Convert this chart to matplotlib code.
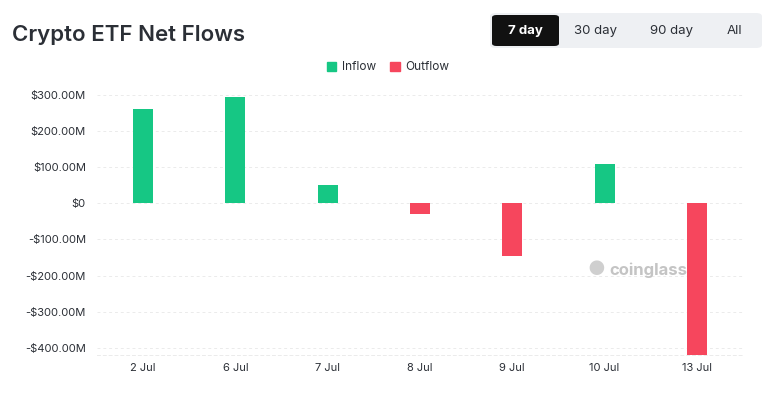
import matplotlib
matplotlib.use("Agg")
import matplotlib.pyplot as plt
from matplotlib.patches import FancyBboxPatch, Patch
from matplotlib.ticker import FuncFormatter

dates = ["2 Jul", "6 Jul", "7 Jul", "8 Jul", "9 Jul", "10 Jul", "13 Jul"]
flows = [260, 294, 50, -30, -147, 108, -419]  # USD millions
y_ticks = [-400, -300, -200, -100, 0, 100, 200, 300]
buttons = ["7 day", "30 day", "90 day", "All"]

GREEN = "#16c784"
RED = "#f6465d"
TEXT = "#2b2f36"

plt.rcParams['font.family'] = ['Inter', 'DejaVu Sans']

fig = plt.figure(figsize=(7.76, 4.2), dpi=100)
ax = fig.add_axes([97/776, (420-355)/420, (743-97)/776, (355-95)/420])

x = list(range(len(dates)))
colors = [GREEN if v >= 0 else RED for v in flows]
ax.bar(x, flows, width=0.217, color=colors, zorder=3)

ax.set_xlim(-0.5, len(dates) - 0.5)
ax.set_ylim(-420, 300)
ax.set_yticks(y_ticks)
ax.set_xticks(x)
ax.set_xticklabels(dates)

def fmt(v, pos):
    if v == 0:
        return "$0"
    s = "-" if v < 0 else ""
    return f"{s}${abs(v):.2f}M"
ax.yaxis.set_major_formatter(FuncFormatter(fmt))

ax.grid(axis='y', color='#ebebeb', linestyle=(0, (3, 3)), linewidth=0.7, zorder=0)
for s in ['top', 'left', 'right']:
    ax.spines[s].set_visible(False)
ax.spines['bottom'].set_color('#ebebeb')
ax.spines['bottom'].set_linestyle((0, (3, 3)))
ax.spines['bottom'].set_linewidth(0.7)
ax.tick_params(axis='both', length=0, labelsize=8, labelcolor=TEXT)
ax.tick_params(axis='x', pad=6)
ax.tick_params(axis='y', pad=8)

# Title
fig.text(12/776, 1 - 35/420, "Crypto ETF Net Flows", fontsize=16, fontweight='semibold',
         color='#2b2f36', va='center', ha='left')

# Legend
handles = [Patch(color=GREEN, label="Inflow"), Patch(color=RED, label="Outflow")]
fig.legend(handles=handles, loc='center', bbox_to_anchor=(388/776, 1 - 67.5/420), ncol=2,
           frameon=False, fontsize=8.5, handlelength=0.8, handleheight=0.8,
           handletextpad=0.5, columnspacing=1.2, labelcolor=TEXT)

# Buttons
W, H = 776, 420
bg = FancyBboxPatch((490/W, 1 - 48/H), 272/W, 35/H, boxstyle="round,pad=0,rounding_size=0.008",
                    transform=fig.transFigure, facecolor='#eef0f3', edgecolor='none')
fig.patches.append(bg)
act = FancyBboxPatch((492/W, 1 - 46/H), 67/W, 31/H, boxstyle="round,pad=0,rounding_size=0.006",
                     transform=fig.transFigure, facecolor='#111111', edgecolor='none')
fig.patches.append(act)
btn_x = [525, 596, 671, 734]
for i, (lbl, bx) in enumerate(zip(buttons, btn_x)):
    fig.text(bx/W, 1 - 31/H, lbl, ha='center', va='center', fontsize=9.5,
             color='white' if i == 0 else TEXT, fontweight='bold' if i == 0 else 'normal')

# Watermark
fig.text(648/W, 1 - 270/H, "coinglass", ha='center', va='center', fontsize=12,
         color='#c4c4c4', fontweight='bold')
fig.text(596/W, 1 - 270/H, "\u25cf", ha='center', va='center', fontsize=14, color='#cfcfcf')

fig.savefig("out.png", dpi=100)
